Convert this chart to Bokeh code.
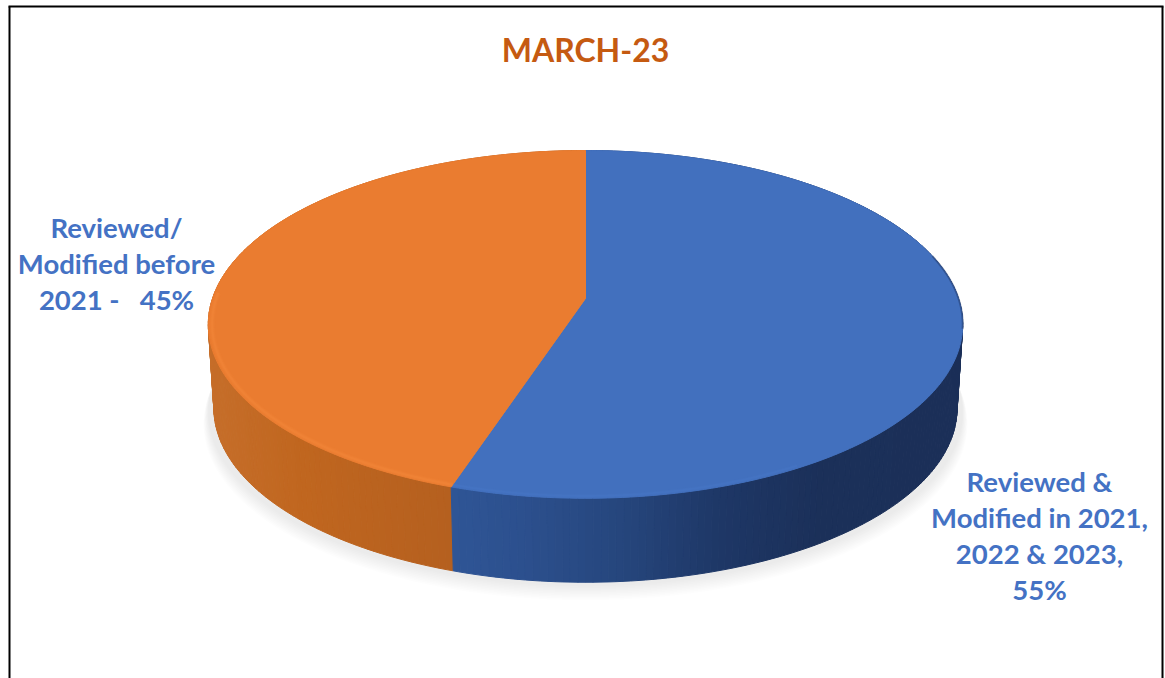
import numpy as np
from bokeh.plotting import figure
from bokeh.core.properties import value
from bokeh.embed import file_html
from bokeh.resources import INLINE

title_text = "MARCH-23"
categories = ["Reviewed & Modified in 2021, 2022 & 2023", "Reviewed/ Modified before 2021"]
shares = [55, 45]
label_lines = [["Reviewed &", "Modified in 2021,", "2022 & 2023,", "55%"],
               ["Reviewed/", "Modified before", "2021 -\u00a0\u00a0 45%"]]
top_colors = ["#4270BE", "#EA7C30"]
rim_colors = ["#4F86DC", "#FB9140"]
side_stops = [[(447, "#2F5596"), (520, "#2C508E"), (620, "#26467D"), (720, "#1E3766"), (820, "#1B3059"), (965, "#1B2F58")],
              [(205, "#C66E2A"), (300, "#C0661F"), (447, "#B5601F")]]
TEXT = "#4472C4"

CX, CY, R, H, K = 585.0, 298.0, 373.0, 170.0, 0.149
DEPTH = 84.0
W, PH = 1165, 678


def outline(t, scale=1.0):
    """Perspective projection of the rim of a disc, t clockwise from the top."""
    u, v = np.sin(t) * scale, -np.cos(t) * scale
    s = 1 / (1 - K * v)
    return CX + R * u * s, CY + H * v * s


def hex_rgb(c):
    return np.array([int(c[i:i + 2], 16) for i in (1, 3, 5)], float)


def ramp(x, stops):
    xs = [a for a, _ in stops]
    cs = np.array([hex_rgb(b) for _, b in stops])
    r = [np.interp(x, xs, cs[:, i]) for i in range(3)]
    return "#%02X%02X%02X" % tuple(int(round(a)) for a in r)


p = figure(width=W, height=PH, x_range=(0, W), y_range=(PH, 0),
           toolbar_location=None, output_backend="svg", min_border=0)
p.axis.visible = False
p.grid.visible = False
p.outline_line_color = None
p.background_fill_color = "#FFFFFF"
p.border_fill_color = "#FFFFFF"

# frame
p.line([9, 9], [6, 680], line_color="#000000", line_width=2)
p.line([8, 1163], [6, 6], line_color="#000000", line_width=2)
p.line([1162, 1162], [6, 680], line_color="#000000", line_width=2)

# soft shadow
tt = np.linspace(0, 2 * np.pi, 361)
for i in range(10):
    f = i / 9
    x, y = outline(tt, 1.0 + 0.012 * (1 - f))
    p.patch(x, y + DEPTH + 4 + 11 * (1 - f), fill_color="#606060", fill_alpha=0.016, line_color=None)

# side wall
fractions = np.cumsum([0] + shares) / sum(shares)
angles = fractions * 2 * np.pi
xs, ys, cols = [], [], []
for k in range(2):
    n = max(int((angles[k + 1] - angles[k]) / np.radians(1)), 2)
    a = np.linspace(angles[k], angles[k + 1], n + 1)
    for t0, t1 in zip(a[:-1], a[1:]):
        x0, y0 = outline(np.array([t0, t1]))
        xb = CX + (x0 - CX) * 0.985
        xs.append([x0[0], x0[1], xb[1], xb[0]])
        ys.append([y0[0], y0[1], y0[1] + DEPTH, y0[0] + DEPTH])
        cols.append(ramp(x0.mean(), side_stops[k]))
order = np.argsort([np.mean(y) for y in ys])
p.patches([xs[i] for i in order], [ys[i] for i in order],
          fill_color=[cols[i] for i in order], line_color=[cols[i] for i in order], line_width=1)

# top face
for k in range(2):
    a = np.linspace(angles[k], angles[k + 1], 200)
    x, y = outline(a)
    p.patch(np.r_[CX, x], np.r_[CY, y], fill_color=top_colors[k], line_color=top_colors[k], line_width=1)

# bevel highlight along the front of the rim
a_or = np.linspace(angles[1], np.radians(272), 120)
for w, al in [(6, 0.08), (4, 0.12), (2, 0.20)]:
    x, y = outline(a_or, 0.99)
    p.line(x, y, line_color=rim_colors[1], line_width=w, line_alpha=al)
a_bl = np.linspace(np.radians(150), angles[1], 120)
for w, al in [(4, 0.06), (2, 0.12)]:
    x, y = outline(a_bl, 0.99)
    p.line(x, y, line_color=rim_colors[0], line_width=w, line_alpha=al)
# dark edge on the right of the blue rim
a_dk = np.linspace(np.radians(75), np.radians(100), 40)
x, y = outline(a_dk)
p.line(x, y, line_color="#1B3059", line_width=2, line_alpha=0.4)

# texts
p.text([585], [49], text=[title_text], text_color="#C55A11", text_font=value("Lato"),
       text_font_style="bold", text_font_size="32px", text_align="center", text_baseline="middle")

centres = [(1039, 481), (116, 227)]
for lines, (lx, ly) in zip(label_lines, centres):
    p.text([lx] * len(lines), [ly + 36 * i for i in range(len(lines))], text=lines,
           text_color=TEXT, text_font=value("Lato"), text_font_style="bold",
           text_font_size="27.5px", text_align="center", text_baseline="middle")

open("out.html", "w").write(file_html(p, INLINE))
